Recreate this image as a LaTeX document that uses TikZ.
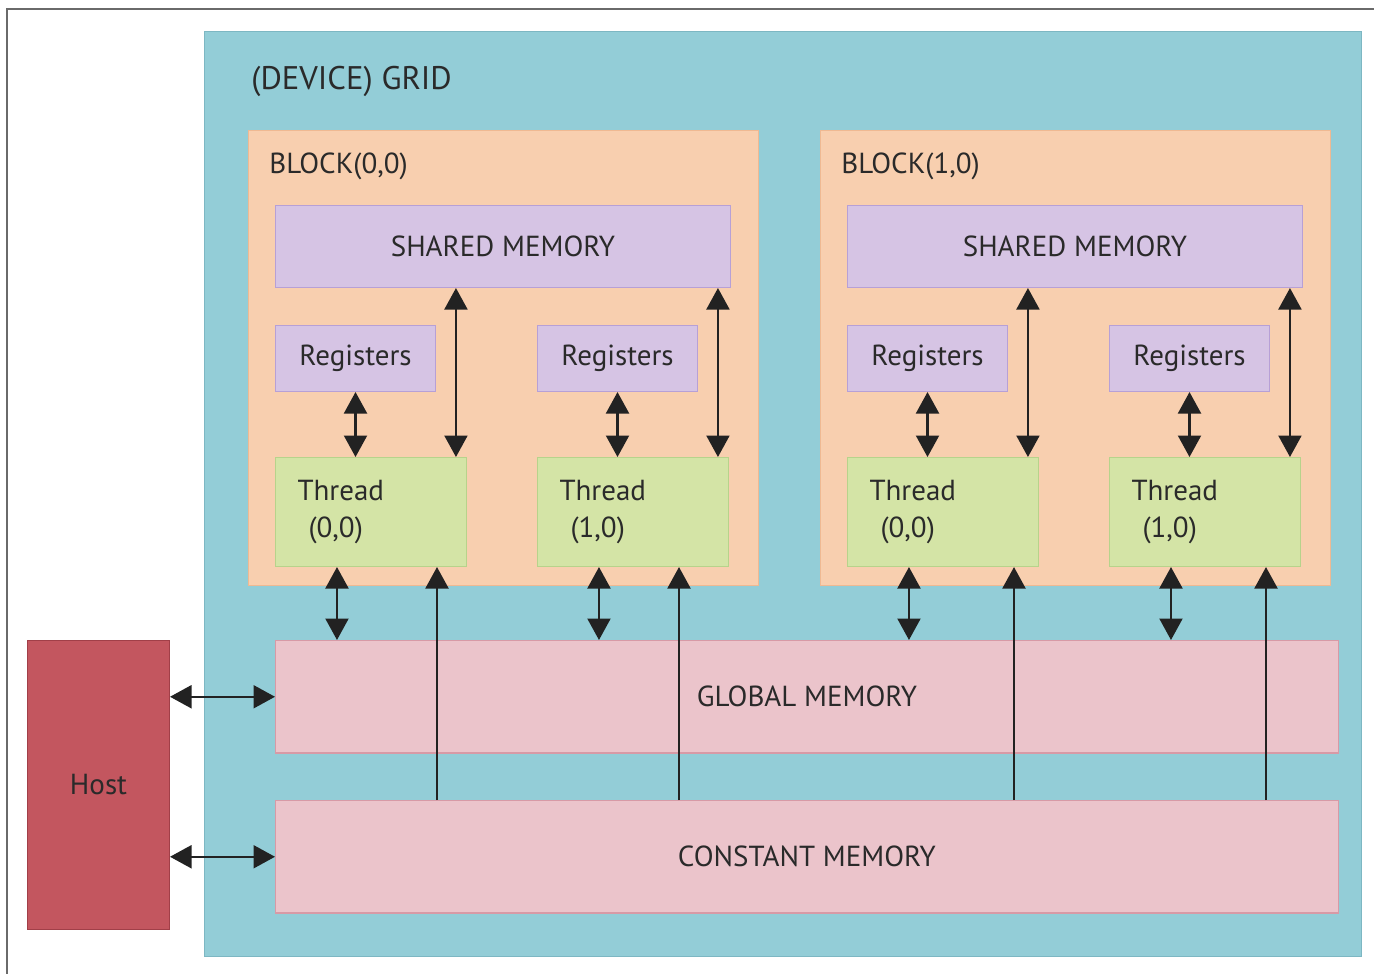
\documentclass[tikz,border=0pt]{standalone}
\usepackage{fontspec}
\setmainfont{PT Sans}
\usetikzlibrary{arrows.meta,positioning}
\definecolor{gridfill}{HTML}{93CDD7}
\definecolor{griddraw}{HTML}{7DB7C3}
\definecolor{blockfill}{HTML}{F8CFAF}
\definecolor{blockdraw}{HTML}{EFB992}
\definecolor{memfill}{HTML}{D6C4E4}
\definecolor{memdraw}{HTML}{B7A0D6}
\definecolor{thrfill}{HTML}{D4E4A6}
\definecolor{thrdraw}{HTML}{B7D38B}
\definecolor{globfill}{HTML}{EBC4CB}
\definecolor{globdraw}{HTML}{D79AA6}
\definecolor{hostfill}{HTML}{C3565F}
\definecolor{hostdraw}{HTML}{A13F48}
\definecolor{txtcol}{HTML}{2A2A2A}
\definecolor{arrcol}{HTML}{222222}
\definecolor{framecol}{HTML}{6A6A6A}
\begin{document}
\begin{tikzpicture}[
    x=0.02cm, y=-0.02cm,
    font=\fontsize{16.5}{21}\selectfont,
    box/.style={rectangle, draw, line width=0.6pt, inner sep=0pt, text=txtcol},
    gridbox/.style={box, fill=gridfill, draw=griddraw, minimum width=23.14cm, minimum height=18.5cm},
    blockbox/.style={box, fill=blockfill, draw=blockdraw, minimum width=10.2cm, minimum height=9.1cm},
    sharedbox/.style={box, fill=memfill, draw=memdraw, minimum width=9.1cm, minimum height=1.64cm},
    regbox/.style={box, fill=memfill, draw=memdraw, minimum width=3.2cm, minimum height=1.32cm},
    threadbox/.style={box, fill=thrfill, draw=thrdraw, minimum width=3.82cm, minimum height=2.18cm,
      text width=2.94cm, inner xsep=0.44cm, align=left},
    globbox/.style={box, fill=globfill, draw=globdraw, minimum width=21.26cm, minimum height=2.25cm},
    hostbox/.style={box, fill=hostfill, draw=hostdraw, minimum width=2.84cm, minimum height=5.78cm},
    lbl/.style={anchor=base west, text=txtcol, inner sep=0pt},
    link/.style={draw=arrcol, line width=1.2pt},
    duplex/.style={link, {Triangle[width=0.46cm,length=0.43cm]}-{Triangle[width=0.46cm,length=0.43cm]}},
    uplink/.style={link, -{Triangle[width=0.46cm,length=0.43cm]}}
  ]
  \useasboundingbox (0,0) rectangle (1374,974);
  \draw[framecol, line width=1.2pt] (7,974) -- (7,9) -- (1374,9);
  \node[gridbox, anchor=north west] (grid) at (204,31) {};
  \node[lbl, font=\fontsize{18.6}{22}\selectfont] (gridlbl) at (251,89) {(DEVICE) GRID};
  \foreach \b/\bx in {0/248,1/820} {
    \node[blockbox, anchor=north west] (blk\b) at (\bx,130) {};
    \node[lbl] (blklbl\b) at (\bx+21,173) {BLOCK(\b,0)};
    \node[sharedbox, anchor=north west] (sh\b) at (\bx+27,205) {SHARED MEMORY};
    \foreach \t/\tx in {0/27,1/289} {
      \node[regbox, anchor=north west] (reg\b\t) at (\bx+\tx,325) {Registers};
      \node[threadbox, anchor=north west] (thr\b\t) at (\bx+\tx,457) {Thread\\\hspace*{0.22cm}(\t,0)};
    }
  }
  \node[globbox, anchor=north west] (glob) at (275,640) {GLOBAL MEMORY};
  \node[globbox, anchor=north west] (const) at (275,800) {CONSTANT MEMORY};
  \node[hostbox, anchor=north west] (host) at (27,640) {Host};
  \foreach \b/\t/\up in {0/0/162,0/1/142,1/0/167,1/1/157} {
    \coordinate (s\b\t) at ([xshift=3.62cm]thr\b\t.north west);
    \coordinate (g\b\t) at ([xshift=1.24cm]thr\b\t.south west);
    \coordinate (c\b\t) at ([xshift=\up*0.02cm]thr\b\t.south west);
    \draw[duplex] (reg\b\t.south) -- (reg\b\t.south |- thr\b\t.north);
    \draw[duplex] (s\b\t |- sh\b.south) -- (s\b\t);
    \draw[duplex] (g\b\t) -- (g\b\t |- glob.north);
    \draw[uplink] (c\b\t |- const.north) -- (c\b\t);
  }
  \draw[duplex] (host.east |- glob.west) -- (glob.west);
  \draw[duplex] (host.east |- const.west) -- (const.west);
\end{tikzpicture}
\end{document}
